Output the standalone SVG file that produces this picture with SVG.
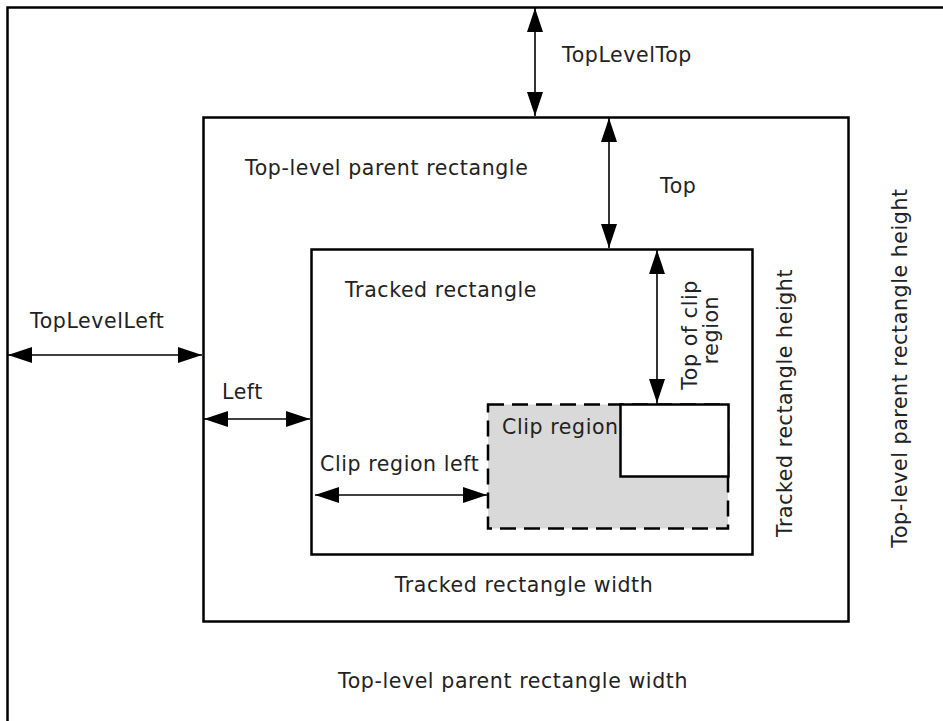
<svg xmlns="http://www.w3.org/2000/svg" width="943" height="721" viewBox="0 0 943 721">
<defs>
<style>
.box{fill:#fff;stroke:#000;stroke-width:2.5}
.clip{fill:#d9d9d9;stroke:#000;stroke-width:2.5;stroke-dasharray:16 8}
.conn{stroke:#000;stroke-width:1.6;fill:none;marker-start:url(#ah);marker-end:url(#ah)}
text{font-family:"DejaVu Sans","Verdana",sans-serif;font-size:20.5px;letter-spacing:0.6px;fill:#222}
</style>
<marker id="ah" viewBox="0 0 24 16" refX="24" refY="8" markerWidth="24" markerHeight="16" markerUnits="userSpaceOnUse" orient="auto-start-reverse">
<path d="M0,0 L24,8 L0,16 z" fill="#000"/>
</marker>
</defs>
<rect width="943" height="721" fill="#fff"/>
<g id="outer">
<rect class="box" x="7.5" y="7.5" width="960" height="740"/>
<text x="562" y="62">TopLevelTop</text>
<text x="513" y="688" text-anchor="middle">Top-level parent rectangle width</text>
<text transform="translate(907,368) rotate(-90)" text-anchor="middle">Top-level parent rectangle height</text>
</g>
<g id="parent">
<rect class="box" x="203.5" y="117.5" width="645" height="504"/>
<text x="245" y="175">Top-level parent rectangle</text>
<text x="660" y="193">Top</text>
<text x="524" y="592" text-anchor="middle">Tracked rectangle width</text>
<text transform="translate(792,403) rotate(-90)" text-anchor="middle">Tracked rectangle height</text>
<text x="30" y="328">TopLevelLeft</text>
</g>
<g id="tracked">
<rect class="box" x="311.5" y="249.5" width="441" height="305"/>
<text x="345" y="297">Tracked rectangle</text>
<text x="222" y="399">Left</text>
<text x="320" y="471">Clip region left</text>
<text transform="translate(697,335) rotate(-90)" text-anchor="middle">Top of clip</text>
<text transform="translate(718,330) rotate(-90)" text-anchor="middle">region</text>
</g>
<g id="clipregion">
<rect class="clip" x="488" y="404.5" width="240" height="124"/>
<text x="502" y="434">Clip region</text>
</g>
<g id="window">
<rect class="box" x="620.5" y="404.5" width="108" height="72"/>
</g>
<g id="connectors">
<line class="conn" x1="535" y1="8" x2="535" y2="116"/>
<line class="conn" x1="609" y1="118" x2="609" y2="248"/>
<line class="conn" x1="657" y1="250" x2="657" y2="403"/>
<line class="conn" x1="8" y1="355" x2="202" y2="355"/>
<line class="conn" x1="204" y1="419" x2="310" y2="419"/>
<line class="conn" x1="315" y1="495" x2="487" y2="495"/>
</g>
</svg>
